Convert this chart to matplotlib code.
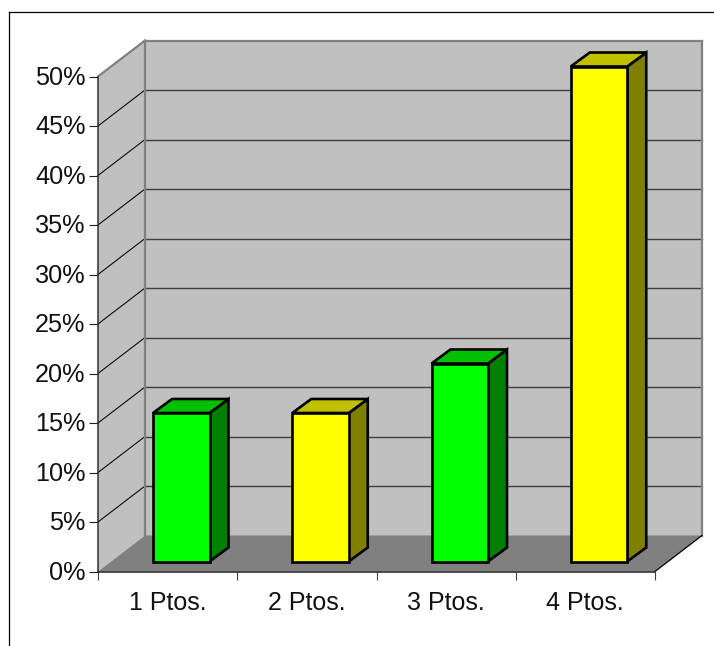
import matplotlib
matplotlib.use("Agg")
import matplotlib.pyplot as plt
from matplotlib.patches import Polygon
from matplotlib.transforms import ScaledTranslation

plt.rcParams['font.family'] = ['Liberation Sans', 'DejaVu Sans']

categories = ["1 Ptos.", "2 Ptos.", "3 Ptos.", "4 Ptos."]
values = [15, 15, 20, 50]
front_colors = ["#00FF00", "#FFFF00", "#00FF00", "#FFFF00"]
top_colors = ["#00C000", "#C0C000", "#00C000", "#C0C000"]
side_colors = ["#008000", "#808000", "#008000", "#808000"]
y_ticks = list(range(0, 55, 5))

W, H = 714, 646
fig = plt.figure(figsize=(W / 100, H / 100), dpi=100, facecolor="white")

# Front plane of the 3D box: 0-4 categories across, 0-50 percent upward
left, right, bottom, top = 98, 655, 571.5, 76.5
ax = fig.add_axes([left / W, 1 - bottom / H, (right - left) / W, (bottom - top) / H])
ax.set_xlim(0, 4)
ax.set_ylim(0, 50)
ax.patch.set_visible(False)
for s in ax.spines.values():
    s.set_visible(False)

px_x = 4 / (right - left)
px_y = 50 / (bottom - top)
depth_x = 47 * px_x
depth_y = 36 * px_y


def poly(pts, fc, ec="none", lw=0, z=1):
    ax.add_patch(Polygon(pts, closed=True, facecolor=fc, edgecolor=ec,
                         linewidth=lw, zorder=z, clip_on=False, joinstyle="miter"))


def line(xs, ys, color, lw, z=2):
    ax.plot(xs, ys, color=color, linewidth=lw, zorder=z, clip_on=False,
            solid_capstyle="projecting")


# Walls and floor
poly([(depth_x, depth_y), (4 + depth_x, depth_y), (4 + depth_x, 50 + depth_y), (depth_x, 50 + depth_y)], "#C0C0C0")
poly([(0, 0), (depth_x, depth_y), (depth_x, 50 + depth_y), (0, 50)], "#C0C0C0")
poly([(0, 0), (4, 0), (4 + depth_x, depth_y), (depth_x, depth_y)], "#808080")

# Gridlines on the side wall and the back wall
for v in y_ticks[1:-1]:
    line([0, depth_x], [v, v + depth_y], "#000000", 0.75)
    line([depth_x, 4 + depth_x], [v + depth_y, v + depth_y], "#404040", 1.0)

# Wall outlines
line([0, depth_x], [50, 50 + depth_y], "#808080", 1.6)
line([depth_x, 4 + depth_x], [50 + depth_y, 50 + depth_y], "#808080", 1.6)
line([depth_x, depth_x], [depth_y, 50 + depth_y], "#808080", 1.6)
line([4 + depth_x, 4 + depth_x], [depth_y, 50 + depth_y], "#808080", 1.6)
line([4, 4 + depth_x], [0, depth_y], "#000000", 0.9)
line([0, 0], [0, 50], "#303030", 1.1, z=3)
line([0, 4], [0, 0], "#202020", 1.1, z=3)

# Bars: front face sits a little inside the floor depth
bar_w = 56.5 * px_x
bar_dx = 19 * px_x
bar_dy = 14 * px_y
base = 10 * px_y
inset = 55 * px_x
for i, v in enumerate(values):
    x0, x1 = i + inset, i + inset + bar_w
    y0, y1 = base, base + v
    poly([(x1, y0), (x1 + bar_dx, y0 + bar_dy), (x1 + bar_dx, y1 + bar_dy), (x1, y1)],
         side_colors[i], "black", 1.9, 5)
    poly([(x0, y1), (x1, y1), (x1 + bar_dx, y1 + bar_dy), (x0 + bar_dx, y1 + bar_dy)],
         top_colors[i], "black", 1.9, 5)
    poly([(x0, y0), (x1, y0), (x1, y1), (x0, y1)], front_colors[i], "black", 1.9, 6)

# Axis ticks and labels
ax.set_yticks(y_ticks)
ax.set_yticklabels([f"{v}%" for v in y_ticks])
ax.set_xticks(range(5))
ax.set_xticklabels([])
ax.set_xticks([i + 0.5 for i in range(4)], minor=True)
ax.set_xticklabels(categories, minor=True)
ax.tick_params(axis="y", length=6.5, width=0.8, color="#202020", labelsize=18.2, pad=2.5, labelcolor="#111111")
ax.tick_params(axis="x", which="major", length=6, width=0.8, color="#404040")
ax.tick_params(axis="x", which="minor", length=0, labelsize=18, pad=14, labelcolor="#111111")

# Nudge the percent labels up slightly so they centre on their ticks
nudge = ScaledTranslation(0, 1.2 / 100, fig.dpi_scale_trans)
for label in ax.get_yticklabels():
    label.set_transform(label.get_transform() + nudge)

# Chart-area frame, left and top edges only
fig.add_artist(plt.Line2D([9 / W, 9 / W], [0, 1 - 12 / H], color="black", linewidth=0.9))
fig.add_artist(plt.Line2D([9 / W, 1], [1 - 12 / H, 1 - 12 / H], color="black", linewidth=0.9))

fig.savefig("out.png", dpi=100, facecolor="white")
